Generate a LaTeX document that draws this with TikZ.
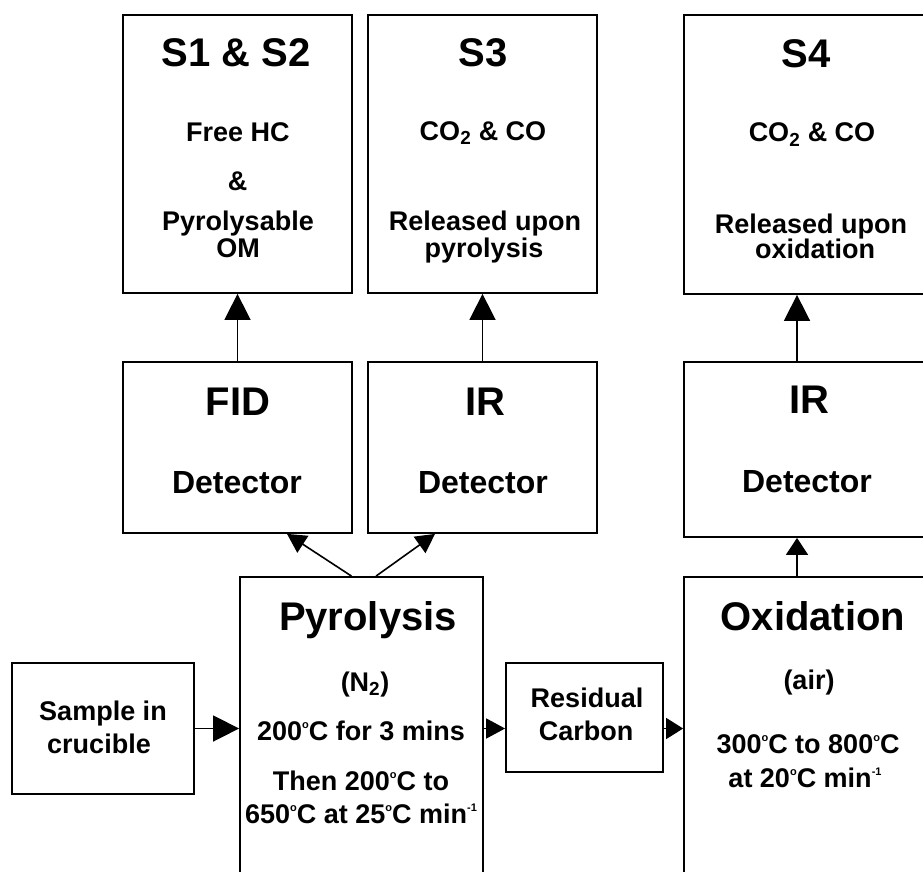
\documentclass[tikz,border=0pt]{standalone}
\usepackage{fontspec}
\setmainfont{Liberation Sans}
\usetikzlibrary{arrows.meta}

\newcommand{\dg}{\raisebox{12pt}{\fontsize{11}{11}\selectfont o}}
\newcommand{\permin}{min\raisebox{12pt}{\fontsize{11}{11}\selectfont -1}}

\tikzset{
  box/.style={draw, line width=1.8pt, inner sep=0pt},
  headtxt/.style={anchor=base, inner sep=0pt, font=\fontsize{40}{48}\selectfont\bfseries},
  dettxt/.style={anchor=base, inner sep=0pt, font=\fontsize{32}{38}\selectfont\bfseries},
  bodytxt/.style={anchor=base, inner sep=0pt, font=\fontsize{27}{32}\selectfont\bfseries},
  arrbig/.style={line width=1.6pt, -{Triangle[length=26pt,width=26pt]}},
  arrmid/.style={line width=1.6pt, -{Triangle[length=19pt,width=20pt]}},
}

\begin{document}
\begin{tikzpicture}[x=1pt,y=-1pt]
   \useasboundingbox (0,0) rectangle (923,872);
   \clip (0,0) rectangle (923,872);
   % boxes
   \node[box, minimum width=229pt, minimum height=278pt] (s12) at (237.5,154) {};
   \node[box, minimum width=229pt, minimum height=278pt] (s3)  at (482.5,154) {};
   \node[box, minimum width=248pt, minimum height=279pt] (s4)  at (808,154.5) {};
   \node[box, minimum width=229pt, minimum height=171pt] (fid) at (237.5,447.5) {};
   \node[box, minimum width=229pt, minimum height=171pt] (ir)  at (482.5,447.5) {};
   \node[box, minimum width=248pt, minimum height=175pt] (irr) at (808,449.5) {};
   \node[box, minimum width=182pt, minimum height=131pt] (smp) at (103,728.5) {};
   \node[box, minimum width=243pt, minimum height=323pt] (pyr) at (361.5,738.5) {};
   \node[box, minimum width=157pt, minimum height=109pt] (res) at (584.5,717.5) {};
   \node[box, minimum width=248pt, minimum height=323pt] (oxi) at (808,738.5) {};
   % S1 & S2
   \node[headtxt] (s12a) at (236,67)  {S1 \& S2};
   \node[bodytxt] (s12b) at (238,141) {Free HC};
   \node[bodytxt] (s12c) at (237.5,190) {\&};
   \node[bodytxt] (s12d) at (238,230) {Pyrolysable};
   \node[bodytxt] (s12e) at (238,257) {OM};
   % S3
   \node[headtxt] (s3a) at (483,67)  {S3};
   \node[bodytxt] (s3b) at (483,140) {CO\textsubscript{2} \& CO};
   \node[bodytxt] (s3c) at (485,230) {Released upon};
   \node[bodytxt] (s3d) at (484,257) {pyrolysis};
   % S4
   \node[headtxt] (s4a) at (806,68)  {S4};
   \node[bodytxt] (s4b) at (812,142) {CO\textsubscript{2} \& CO};
   \node[bodytxt] (s4c) at (811,233) {Released upon};
   \node[bodytxt] (s4d) at (815,258) {oxidation};
   % detectors
   \node[headtxt] (fida) at (238,415) {FID};
   \node[dettxt]  (fidb) at (237,493) {Detector};
   \node[headtxt] (ira)  at (485,415) {IR};
   \node[dettxt]  (irb)  at (483,493) {Detector};
   \node[headtxt] (irra) at (809,413) {IR};
   \node[dettxt]  (irrb) at (807,492) {Detector};
   % sample
   \node[bodytxt] (smpa) at (103,720) {Sample in};
   \node[bodytxt] (smpb) at (99,753)  {crucible};
   % pyrolysis
   \node[headtxt] (pyra) at (368,630) {Pyrolysis};
   \node[bodytxt] (pyrb) at (365,691) {(N\textsubscript{2})};
   \node[bodytxt] (pyrc) at (361,740) {200\dg C for 3 mins};
   \node[bodytxt] (pyrd) at (361,790) {Then 200\dg C to};
   \node[bodytxt] (pyre) at (361,823) {650\dg C at 25\dg C \permin};
   % residual carbon
   \node[bodytxt] (resa) at (587,707) {Residual};
   \node[bodytxt] (resb) at (586,740) {Carbon};
   % oxidation
   \node[headtxt] (oxia) at (813,630) {Oxidation};
   \node[bodytxt] (oxib) at (809,689) {(air)};
   \node[bodytxt] (oxic) at (808,753) {300\dg C to 800\dg C};
   \node[bodytxt] (oxid) at (805,787) {at 20\dg C \permin};
   % connectors
   \draw[arrbig] (fid.north) -- (s12.south);
   \draw[arrbig] (ir.north) -- (s3.south);
   \draw[arrbig] ([xshift=-11pt]irr.north) -- ([xshift=-11pt]s4.south);
   \draw[arrmid] ([xshift=-10pt]pyr.north) -- ([xshift=49.5pt]fid.south);
   \draw[arrmid] ([xshift=14.5pt]pyr.north) -- ([xshift=-47.5pt]ir.south);
   \draw[line width=1.6pt, -{Triangle[length=17pt,width=22pt]}] ([xshift=-11pt]oxi.north) -- ([xshift=-11pt]irr.south);
   \draw[arrbig] (smp.east) -- (smp.east -| pyr.west);
   \draw[arrmid] (smp.east -| pyr.east) -- (smp.east -| res.west);
   \draw[line width=1.6pt, -{Triangle[length=17pt,width=21pt]}] (smp.east -| res.east) -- (smp.east -| oxi.west);
\end{tikzpicture}
\end{document}
